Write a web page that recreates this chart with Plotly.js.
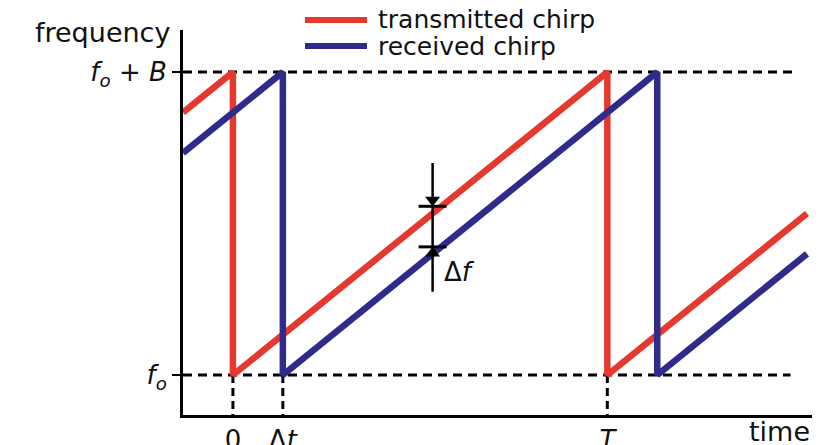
<!DOCTYPE html>
<html>
<head>
<meta charset="utf-8">
<script src="https://cdn.plot.ly/plotly-3.0.1.min.js"></script>
<style>html,body{margin:0;padding:0;background:#fff;}#chart{width:822px;height:445px;}</style>
</head>
<body>
<div id="chart"></div>
<script>
// time in units of Δt (0 = chirp start), frequency normalised: 0 = f0, 1 = f0 + B
var txTime = [-1, 0, 0, 7.5, 7.5, 11.5];
var txFreq = [0.867, 1, 0, 1, 0, 0.533];
var rxTime = [-1, 1, 1, 8.5, 8.5, 11.5];
var rxFreq = [0.733, 1, 0, 1, 0, 0.4];
var seriesNames = ["transmitted chirp", "received chirp"];

var xTickVals = [0, 1, 7.5];
var xTickText = ["0", "Δ<i>t</i>", "<i>T</i>"];
var yTickVals = [0, 1];
var yTickText = ["<i>f</i><sub><i>o</i></sub>", "<i>f</i><sub><i>o</i></sub> + <i>B</i>"];

var topGuideT = [-1, 11.27];
var botGuideT = [-1, 11.17];
var vGuideT = [0, 1, 7.5];

var dfT = 4.0;
var dfLine = [0.70, 0.275];
var dfArrowDown = 0.578;   // arrowhead pointing down onto transmitted line
var dfArrowUp = 0.402;     // arrowhead pointing up toward received line
var dfBarTop = 0.557;
var dfBarBot = 0.423;

var RED = "#e5392f", BLUE = "#2e2b8c";
var FONT = "DejaVu Sans, Liberation Sans, Arial, sans-serif";

var traces = [];
traces.push({x: topGuideT, y: [1, 1], mode: "lines", line: {color: "#000", width: 3, dash: "9px,6px"}, hoverinfo: "skip"});
traces.push({x: botGuideT, y: [0, 0], mode: "lines", line: {color: "#000", width: 3, dash: "9px,6px"}, hoverinfo: "skip"});
vGuideT.forEach(function (t) {
  traces.push({x: [t, t], y: [0, -0.135], mode: "lines", line: {color: "#000", width: 3, dash: "8px,5px"}, hoverinfo: "skip"});
});
traces.push({x: txTime, y: txFreq, name: seriesNames[0], mode: "lines", line: {color: RED, width: 6.5}});
traces.push({x: rxTime, y: rxFreq, name: seriesNames[1], mode: "lines", line: {color: BLUE, width: 6.5}});
traces.push({x: [dfT, dfT], y: dfLine, mode: "lines", line: {color: "#000", width: 2.5}, hoverinfo: "skip"});
traces.push({x: [dfT, dfT], y: [dfBarTop, dfBarBot], mode: "markers", marker: {symbol: "line-ew", size: 20, line: {color: "#000", width: 3}}, hoverinfo: "skip"});
traces.push({x: [dfT], y: [dfArrowDown], mode: "markers", marker: {symbol: "triangle-down", size: 13, color: "#000"}, hoverinfo: "skip"});
traces.push({x: [dfT], y: [dfArrowUp], mode: "markers", marker: {symbol: "triangle-up", size: 13, color: "#000"}, hoverinfo: "skip"});

var lx0 = (305 - 183) / 629, lx1 = (367 - 183) / 629, ltx = (376 - 183) / 629;
var ly1 = (415 - 20) / 385, ly2 = (415 - 46) / 385;

var layout = {
  width: 822, height: 445,
  margin: {l: 183, r: 10, t: 30, b: 30},
  paper_bgcolor: "#fff", plot_bgcolor: "#fff",
  showlegend: false,
  font: {family: FONT, size: 26, color: "#111"},
  xaxis: {
    range: [-1, 11.6], showgrid: false, zeroline: false,
    showline: true, linecolor: "#000", linewidth: 3,
    tickmode: "array", tickvals: xTickVals, ticktext: xTickText,
    ticks: "", tickfont: {family: FONT, size: 26, color: "#111"}
  },
  yaxis: {
    range: [-0.132, 1.139], showgrid: false, zeroline: false,
    showline: true, linecolor: "#000", linewidth: 3,
    tickmode: "array", tickvals: yTickVals, ticktext: yTickText,
    ticks: "outside", ticklen: 8, tickwidth: 2.5, tickcolor: "#000",
    tickfont: {family: FONT, size: 26, color: "#111"}
  },
  shapes: [
    {type: "line", xref: "paper", yref: "paper", x0: lx0, x1: lx1, y0: ly1, y1: ly1, line: {color: RED, width: 6}},
    {type: "line", xref: "paper", yref: "paper", x0: lx0, x1: lx1, y0: ly2, y1: ly2, line: {color: BLUE, width: 6}}
  ],
  annotations: [
    {xref: "paper", yref: "paper", x: ltx, y: ly1, xanchor: "left", yanchor: "middle", text: seriesNames[0], showarrow: false, font: {family: FONT, size: 25, color: "#111"}},
    {xref: "paper", yref: "paper", x: ltx, y: ly2, xanchor: "left", yanchor: "middle", text: seriesNames[1], showarrow: false, font: {family: FONT, size: 25, color: "#111"}},
    {xref: "paper", yref: "paper", x: (172 - 183) / 629, y: (415 - 32) / 385, xanchor: "right", yanchor: "middle", text: "frequency", showarrow: false, font: {family: FONT, size: 27, color: "#111"}},
    {xref: "paper", yref: "paper", x: (812 - 183) / 629, y: (415 - 432) / 385, xanchor: "right", yanchor: "middle", text: "time", showarrow: false, font: {family: FONT, size: 27, color: "#111"}},
    {xref: "x", yref: "y", x: dfT + 0.18, y: 0.34, xanchor: "left", yanchor: "middle", text: "Δ<i>f</i>", showarrow: false, font: {family: FONT, size: 26, color: "#111"}}
  ]
};

Plotly.newPlot("chart", traces, layout, {staticPlot: true, displayModeBar: false});
</script>
</body>
</html>
